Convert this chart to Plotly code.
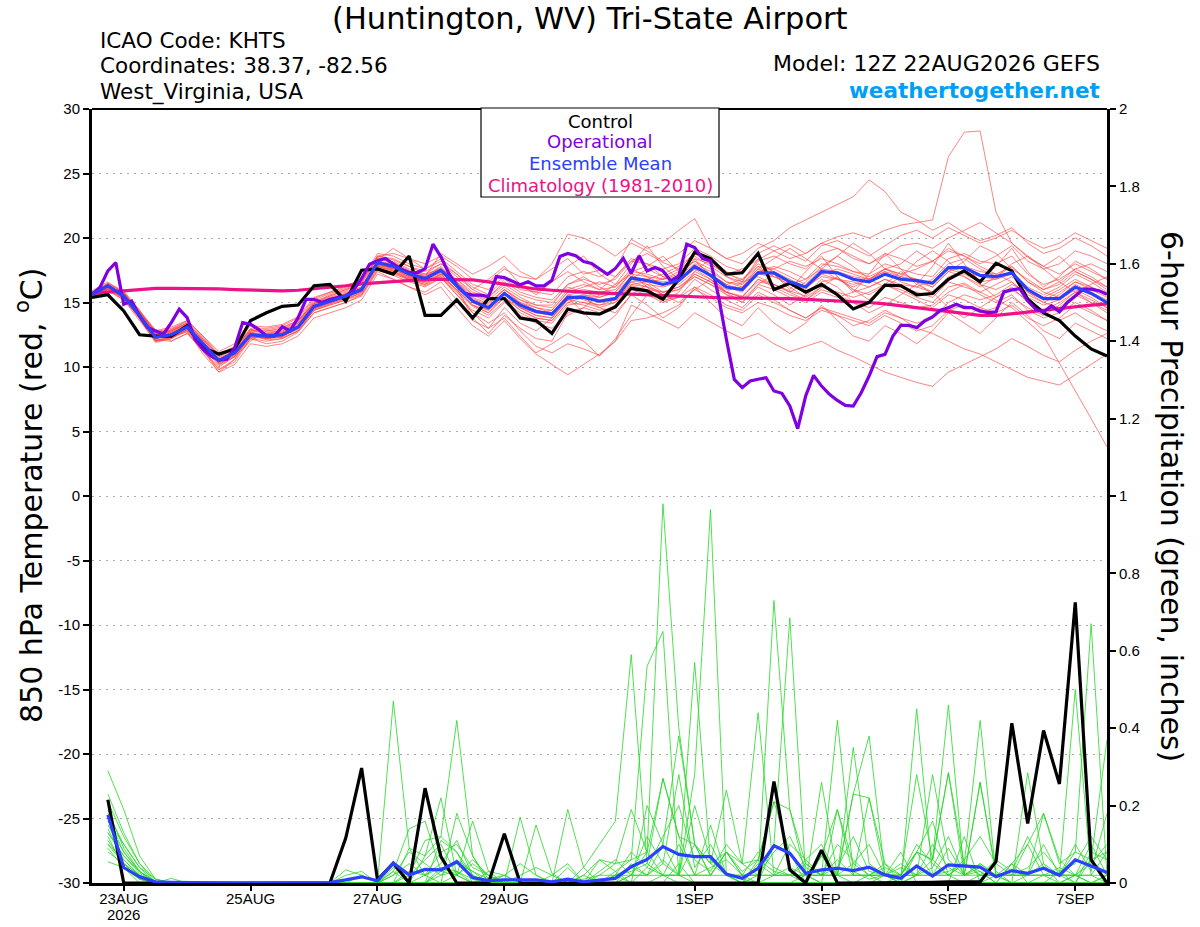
import pandas as pd
import plotly.graph_objects as go

# 6-hourly GEFS times (temperature) and 3-hourly operational times
times = pd.date_range("2026-08-22 12:00", periods=65, freq="6h")
op_times = pd.date_range("2026-08-22 12:00", periods=129, freq="3h")
precip_times = times[1:]

# 850 hPa temperature, deg C
control_t = [15.4, 15.6, 14.35, 12.5, 12.4, 12.4, 13.2, 11.5, 11.0, 11.4, 13.6, 14.2, 14.7, 14.8, 16.3, 16.4,
             15.1, 17.5, 17.6, 17.2, 18.6, 14.0, 14.0, 15.2, 13.8, 15.3, 15.3, 13.8, 13.6, 12.6, 14.5, 14.2,
             14.1, 14.65, 16.1, 15.9, 15.25, 16.8, 18.9, 18.4, 17.2, 17.3, 18.8, 16.0, 16.5, 15.8, 16.4, 15.6,
             14.5, 15.0, 16.35, 16.3, 15.6, 15.7, 16.8, 17.45, 16.6, 18.05, 17.45, 15.25, 14.2, 13.6, 12.4, 11.4,
             10.85]

mean_t = [15.6, 16.3, 15.5, 14.0, 12.3, 12.5, 13.1, 11.8, 10.5, 11.1, 12.5, 12.4, 12.5, 13.1, 14.7, 15.1,
          15.5, 16.0, 18.1, 17.8, 17.2, 16.85, 17.5, 16.3, 15.1, 14.6, 15.7, 14.8, 14.3, 14.1, 15.4, 15.4,
          15.1, 15.3, 16.9, 16.7, 16.4, 16.7, 17.8, 17.1, 16.2, 16.0, 17.3, 17.3, 16.6, 16.2, 17.4, 17.3,
          16.8, 16.6, 17.2, 16.8, 16.7, 16.5, 17.7, 17.7, 17.1, 17.0, 17.3, 16.0, 15.3, 15.3, 16.2, 15.7,
          15.0]

clim_t = [15.7, 15.8, 15.9, 16.0, 16.1, 16.1, 16.1, 16.05, 16.05, 16.0, 15.95, 15.9, 15.9, 15.95, 16.05, 16.15,
          16.3, 16.45, 16.55, 16.65, 16.75, 16.8, 16.8, 16.8, 16.75, 16.6, 16.4, 16.2, 16.05, 15.95, 15.85, 15.8,
          15.75, 15.7, 15.65, 15.55, 15.5, 15.45, 15.4, 15.4, 15.35, 15.35, 15.35, 15.3, 15.3, 15.25, 15.2, 15.15,
          15.1, 15.0, 14.9, 14.75, 14.6, 14.45, 14.3, 14.1, 14.0, 14.0, 14.1, 14.25, 14.4, 14.55, 14.7, 14.8,
          14.9]

oper_t = [15.64, 16.16, 17.45, 18.1, 14.87, 15.12, 13.96, 13.06, 12.8, 12.54, 13.44, 14.48, 13.83, 12.15, 11.37, 10.85,
          10.54, 10.6, 11.5, 13.44, 13.31, 12.92, 12.4, 12.4, 13.12, 12.8, 13.83, 15.25, 15.25, 15.0, 15.25, 15.38,
          15.51, 15.98, 16.86, 17.97, 18.23, 18.41, 17.97, 17.58, 17.32, 17.32, 17.6, 19.52, 18.54, 17.25, 16.34, 15.72,
          15.57, 15.57, 15.46, 17.01, 16.93, 16.62, 16.37, 16.6, 16.29, 16.29, 16.73, 18.57, 18.8, 18.62, 18.18, 18.03,
          17.58, 17.19, 17.64, 18.41, 17.27, 18.62, 17.45, 17.71, 17.45, 16.67, 17.06, 19.52, 19.26, 18.41, 18.23, 15.51,
          12.15, 9.04, 8.4, 8.91, 9.05, 9.17, 8.14, 7.96, 6.98, 5.22, 7.75, 9.35, 8.52, 7.88, 7.41, 7.02,
          6.97, 8.0, 9.3, 10.8, 10.98, 12.4, 13.23, 13.23, 13.05, 13.57, 13.88, 14.4, 14.6, 14.87, 14.6, 14.6,
          14.35, 14.22, 14.27, 15.82, 15.98, 16.08, 15.13, 14.48, 14.27, 14.74, 14.27, 15.0, 15.51, 16.03, 16.03, 15.9,
          15.64]

ens_t = [
    [15.5, 16.0, 15.8, 14.2, 12.8, 12.0, 12.6, 11.5, 10.2, 10.8, 12.0, 12.8, 13.0, 13.6, 14.9, 15.5, 16.0, 16.4, 17.8, 18.2, 17.6, 17.0, 18.8, 18.0, 17.2, 17.8, 18.6, 17.4, 16.8, 17.6, 18.4, 17.2, 17.5, 17.0, 18.2, 18.8, 18.1, 17.6, 18.4, 18.0, 17.2, 17.6, 18.3, 19.0, 19.5, 18.8, 19.6, 20.1, 20.4, 20.0, 20.6, 21.0, 21.2, 21.4, 26.3, 28.2, 28.3, 22.0, 19.6, 18.5, 17.8, 18.6, 17.4, 16.8, 16.2],
    [15.4, 15.9, 15.2, 13.6, 12.0, 12.3, 12.9, 11.2, 9.8, 10.4, 12.2, 11.8, 12.0, 12.7, 14.2, 14.6, 15.0, 15.6, 17.5, 17.1, 16.6, 16.2, 16.9, 15.8, 14.7, 14.0, 15.1, 14.2, 13.6, 13.4, 14.8, 15.0, 14.6, 15.0, 16.3, 16.0, 15.8, 16.2, 17.0, 16.4, 15.8, 15.5, 16.6, 16.4, 15.9, 15.5, 16.6, 16.9, 16.0, 15.6, 16.3, 16.0, 15.4, 15.0, 16.2, 16.5, 15.8, 15.2, 14.6, 13.5, 12.4, 10.3, 8.2, 6.0, 3.8],
    [15.8, 16.4, 15.6, 13.8, 11.9, 12.2, 12.8, 11.0, 9.6, 10.6, 12.6, 12.1, 12.2, 12.8, 14.4, 14.8, 15.2, 15.8, 18.4, 17.4, 16.8, 16.4, 17.0, 15.6, 14.2, 13.4, 14.2, 12.8, 11.6, 11.1, 11.8, 11.4, 10.9, 12.0, 14.8, 14.2, 13.6, 13.0, 14.2, 13.5, 12.8, 12.2, 12.6, 11.8, 11.2, 11.6, 12.0, 11.3, 10.8, 10.2, 9.6, 9.2, 8.8, 8.5, 9.6, 10.2, 10.8, 11.4, 12.2, 11.6, 10.9, 10.4, 11.3, 12.0, 12.6],
    [15.6, 16.2, 15.4, 14.0, 12.5, 12.8, 13.4, 12.2, 10.8, 11.4, 12.8, 12.6, 12.8, 13.4, 15.0, 15.4, 15.8, 16.2, 18.0, 17.6, 17.0, 16.6, 17.2, 16.0, 14.8, 14.2, 15.4, 14.4, 13.8, 13.6, 15.0, 14.8, 14.4, 14.6, 16.0, 15.6, 15.0, 15.4, 16.8, 16.0, 15.2, 14.6, 15.8, 15.2, 14.4, 13.8, 14.6, 14.0, 13.2, 13.6, 14.4, 13.8, 13.0, 12.6, 12.0, 11.4, 11.0, 10.4, 9.8, 9.2, 8.9, 8.6, 9.4, 10.2, 11.0],
    [15.7, 16.5, 15.9, 14.4, 12.6, 12.9, 13.6, 12.4, 11.0, 11.6, 13.0, 13.0, 13.2, 13.8, 15.3, 15.8, 16.3, 16.8, 18.8, 18.6, 18.0, 17.6, 18.4, 17.4, 16.4, 16.0, 17.0, 16.2, 15.8, 15.6, 17.0, 17.4, 17.0, 17.6, 19.9, 19.2, 19.6, 20.6, 21.5, 19.2, 18.4, 18.0, 19.2, 19.8, 20.8, 21.4, 22.0, 22.6, 23.2, 24.5, 23.6, 22.0, 21.4, 20.6, 21.2, 20.4, 19.8, 20.2, 20.8, 19.6, 18.8, 19.2, 20.0, 19.4, 18.6],
    [15.3, 16.1, 15.3, 13.9, 12.2, 12.4, 12.8, 11.6, 10.4, 11.0, 12.4, 12.2, 12.4, 13.0, 14.6, 15.0, 15.4, 15.9, 17.9, 17.6, 17.0, 16.8, 17.4, 16.6, 15.6, 15.0, 16.0, 15.2, 14.8, 14.6, 16.0, 16.4, 16.0, 16.2, 17.4, 17.8, 18.6, 17.4, 18.2, 17.2, 16.4, 16.8, 17.8, 17.0, 16.4, 16.8, 17.6, 16.8, 16.2, 16.8, 17.4, 16.6, 16.2, 16.8, 18.0, 18.4, 17.6, 17.0, 17.8, 16.6, 15.8, 15.4, 16.4, 15.8, 15.2],
    [15.9, 16.6, 15.7, 14.3, 12.9, 12.6, 13.2, 12.0, 10.2, 10.9, 12.3, 12.2, 12.3, 13.2, 14.8, 15.2, 15.6, 16.1, 18.6, 18.4, 17.8, 17.2, 17.6, 16.2, 13.8, 12.6, 14.0, 13.0, 12.2, 12.0, 14.2, 14.6, 14.2, 14.8, 16.4, 16.6, 16.8, 17.4, 18.6, 17.8, 17.0, 16.6, 18.2, 18.6, 18.0, 17.6, 18.8, 19.2, 18.6, 18.0, 18.6, 19.4, 19.6, 19.2, 20.0, 20.6, 21.2, 20.4, 19.6, 18.6, 17.8, 17.2, 18.0, 17.4, 16.8],
    [15.5, 16.2, 15.5, 14.1, 12.4, 12.6, 13.0, 11.4, 9.8, 10.6, 12.2, 12.4, 12.6, 13.0, 14.4, 14.8, 15.2, 15.6, 17.6, 17.2, 16.8, 16.4, 17.2, 16.8, 15.8, 15.4, 16.4, 15.6, 15.2, 15.0, 16.2, 15.8, 15.4, 15.8, 17.0, 16.6, 15.8, 16.2, 17.2, 16.6, 15.8, 15.4, 16.8, 16.2, 15.6, 15.2, 16.0, 15.6, 15.0, 14.6, 15.4, 15.0, 14.6, 14.8, 15.8, 16.4, 15.6, 15.0, 15.6, 14.4, 13.8, 14.2, 15.0, 14.4, 13.6],
    [15.6, 16.3, 15.6, 14.0, 12.0, 12.2, 13.0, 11.9, 10.6, 11.3, 12.7, 12.5, 12.6, 13.3, 14.9, 15.3, 15.7, 16.2, 18.2, 18.0, 17.4, 17.0, 17.8, 16.4, 15.0, 14.4, 15.8, 14.6, 14.0, 13.8, 15.2, 15.6, 15.4, 15.8, 17.4, 17.2, 16.8, 17.2, 18.2, 17.6, 16.6, 16.4, 17.8, 17.6, 17.0, 16.4, 17.6, 17.4, 17.0, 16.8, 17.4, 17.0, 16.8, 16.4, 17.6, 17.2, 16.6, 16.8, 17.4, 16.2, 15.6, 16.2, 17.2, 16.6, 15.8],
    [15.4, 16.0, 15.4, 14.2, 12.6, 12.8, 13.4, 12.1, 10.6, 11.2, 12.8, 12.9, 13.1, 13.6, 15.0, 15.6, 16.0, 16.6, 18.6, 18.8, 18.4, 18.0, 18.6, 17.8, 16.8, 16.6, 17.6, 17.0, 16.8, 18.0, 20.3, 20.0, 19.4, 18.6, 19.6, 19.0, 18.2, 18.8, 19.8, 19.2, 18.4, 18.8, 19.6, 19.0, 18.4, 18.8, 19.6, 19.2, 18.4, 18.0, 18.8, 18.4, 17.8, 18.2, 19.2, 18.6, 18.0, 18.6, 19.4, 18.2, 17.6, 18.0, 19.0, 18.6, 18.0],
    [15.7, 16.4, 15.5, 13.8, 12.1, 12.0, 12.6, 11.3, 9.6, 10.2, 11.8, 11.6, 11.8, 12.4, 13.8, 14.2, 14.6, 15.2, 17.2, 16.8, 16.2, 15.6, 16.2, 14.6, 13.2, 12.4, 13.6, 12.2, 11.0, 10.2, 9.4, 10.2, 11.0, 12.0, 13.6, 13.8, 14.2, 14.8, 16.0, 15.4, 14.6, 14.2, 15.0, 14.6, 14.0, 13.6, 14.4, 14.0, 13.6, 13.2, 14.0, 13.4, 12.8, 13.2, 14.4, 14.8, 14.2, 14.6, 15.4, 14.6, 14.0, 14.8, 15.8, 15.2, 14.6],
    [15.5, 16.1, 15.6, 14.3, 12.7, 13.0, 13.5, 12.3, 10.9, 11.5, 12.9, 12.7, 12.8, 13.5, 15.1, 15.5, 15.9, 16.4, 18.4, 18.1, 17.5, 17.1, 17.7, 16.5, 15.3, 14.8, 16.0, 15.0, 14.4, 14.2, 15.6, 15.8, 15.6, 15.6, 17.0, 16.8, 16.6, 16.8, 17.8, 17.0, 16.2, 15.8, 17.2, 17.0, 16.6, 16.2, 17.0, 16.8, 16.6, 16.2, 16.8, 16.4, 16.2, 15.8, 17.0, 17.4, 17.0, 16.8, 17.2, 15.8, 15.0, 14.6, 15.6, 15.0, 14.4],
    [15.6, 16.2, 15.3, 13.7, 12.0, 12.4, 12.7, 11.2, 10.0, 10.8, 12.4, 12.3, 12.5, 13.1, 14.5, 14.9, 15.3, 15.8, 17.8, 17.4, 16.8, 16.6, 17.2, 16.0, 14.8, 14.2, 15.4, 14.6, 14.2, 14.4, 15.8, 16.2, 16.6, 16.2, 17.6, 17.0, 16.4, 16.6, 17.6, 16.8, 16.0, 16.2, 17.4, 17.6, 18.2, 17.8, 18.4, 18.0, 17.4, 17.0, 17.6, 17.2, 17.6, 18.2, 19.0, 18.6, 17.8, 17.2, 16.6, 15.6, 15.0, 15.6, 16.6, 16.2, 15.6],
    [15.8, 16.5, 15.8, 14.2, 12.4, 12.8, 13.3, 12.0, 10.4, 11.0, 12.6, 12.4, 12.4, 13.0, 14.6, 15.0, 15.4, 15.9, 18.0, 17.8, 17.2, 16.8, 17.4, 16.2, 15.0, 14.6, 15.8, 14.8, 14.4, 14.0, 15.4, 15.6, 15.2, 15.4, 16.8, 16.4, 16.2, 16.6, 17.6, 17.2, 16.4, 16.0, 17.4, 17.8, 17.4, 16.8, 18.0, 17.8, 17.4, 17.2, 18.0, 17.6, 17.2, 17.0, 18.4, 18.8, 18.2, 18.0, 18.6, 17.2, 16.4, 16.8, 17.6, 17.0, 16.2],
    [15.4, 16.0, 15.2, 13.9, 12.3, 12.5, 13.1, 11.7, 10.3, 11.0, 12.4, 12.2, 12.4, 12.9, 14.5, 15.0, 15.5, 16.0, 17.9, 17.7, 17.1, 16.7, 17.3, 16.3, 15.2, 14.7, 15.8, 15.0, 14.6, 14.2, 15.2, 15.0, 14.8, 15.2, 16.6, 16.2, 15.6, 16.0, 17.0, 16.4, 15.6, 15.2, 16.4, 16.0, 15.4, 15.0, 15.8, 15.4, 15.8, 16.2, 16.8, 16.2, 15.8, 15.4, 16.6, 16.2, 15.8, 16.4, 17.0, 16.0, 15.4, 16.0, 16.8, 16.2, 15.6],
    [15.6, 16.3, 15.7, 14.4, 12.8, 13.1, 13.6, 12.4, 11.2, 11.8, 13.2, 13.1, 13.3, 13.9, 15.4, 15.8, 16.2, 16.6, 18.6, 18.3, 17.8, 17.4, 18.0, 17.0, 16.0, 15.4, 16.6, 15.8, 15.4, 15.2, 16.4, 16.8, 16.4, 16.8, 18.2, 18.0, 17.6, 18.0, 19.2, 18.6, 17.8, 17.4, 18.8, 19.4, 18.8, 18.2, 19.4, 19.8, 19.2, 18.6, 19.4, 20.2, 20.6, 20.0, 20.8, 20.2, 19.6, 20.0, 20.6, 19.8, 19.2, 19.6, 20.4, 19.8, 19.2],
    [15.5, 16.2, 15.4, 13.8, 12.1, 12.3, 12.9, 11.6, 10.4, 11.2, 12.6, 12.4, 12.5, 13.1, 14.6, 15.0, 15.4, 15.9, 17.8, 17.5, 16.9, 16.5, 17.1, 15.9, 14.2, 13.0, 13.8, 12.4, 11.1, 11.8, 12.6, 12.0, 10.85, 12.2, 14.0, 15.6, 15.2, 15.4, 16.2, 15.6, 14.8, 14.4, 15.6, 15.0, 14.4, 13.8, 14.6, 14.2, 13.8, 13.4, 14.2, 13.8, 13.4, 13.8, 15.0, 15.6, 15.2, 15.6, 16.4, 15.8, 15.2, 15.8, 16.6, 16.0, 15.4],
    [15.7, 16.4, 15.6, 14.1, 12.4, 12.7, 13.2, 11.9, 10.6, 11.2, 12.6, 12.5, 12.7, 13.4, 14.9, 15.3, 15.7, 16.1, 18.2, 17.9, 17.3, 17.0, 17.6, 16.4, 15.2, 14.6, 15.8, 14.8, 14.2, 14.0, 15.6, 15.2, 14.8, 15.0, 16.6, 16.8, 17.2, 17.8, 18.8, 18.0, 17.2, 16.8, 18.0, 17.4, 16.8, 16.2, 17.2, 16.8, 16.4, 16.8, 17.6, 17.0, 16.6, 16.2, 17.4, 17.0, 16.4, 16.0, 16.6, 15.4, 14.8, 15.2, 16.0, 15.4, 14.6],
    [15.6, 16.1, 15.5, 14.0, 12.2, 12.6, 13.0, 11.8, 10.5, 11.0, 12.4, 12.6, 12.7, 13.2, 14.7, 15.1, 15.6, 16.1, 18.1, 17.6, 17.0, 16.8, 17.5, 16.6, 15.4, 14.9, 16.0, 15.2, 14.6, 14.4, 15.8, 16.0, 15.8, 16.0, 17.2, 17.0, 16.8, 17.0, 18.0, 17.4, 16.6, 16.2, 17.6, 17.2, 16.6, 16.0, 17.2, 17.6, 17.2, 16.8, 17.6, 17.2, 16.8, 16.2, 17.4, 17.8, 17.4, 17.2, 17.8, 16.6, 16.0, 16.4, 17.4, 16.8, 16.0],
    [15.5, 16.3, 15.6, 14.0, 12.3, 12.5, 13.1, 11.8, 10.5, 11.1, 12.5, 12.4, 12.5, 13.1, 14.7, 15.1, 15.5, 16.0, 18.0, 17.7, 17.1, 16.8, 17.4, 16.2, 15.0, 14.5, 15.6, 14.6, 14.0, 13.8, 15.2, 15.4, 15.0, 15.2, 16.4, 16.2, 15.8, 16.0, 17.2, 16.6, 15.8, 15.4, 16.8, 16.4, 15.8, 15.2, 16.2, 15.8, 15.4, 15.8, 16.4, 15.8, 15.2, 14.6, 15.6, 15.2, 14.6, 14.2, 14.8, 13.8, 13.2, 13.8, 14.8, 14.2, 13.6],
    [15.6, 16.2, 15.7, 14.2, 12.5, 12.4, 13.0, 11.7, 10.3, 10.9, 12.3, 12.3, 12.4, 13.0, 14.6, 15.0, 15.4, 15.9, 18.3, 19.2, 18.4, 17.6, 18.2, 17.2, 16.0, 16.8, 17.8, 16.4, 15.6, 16.6, 17.8, 18.6, 17.2, 16.4, 18.0, 19.4, 17.8, 16.8, 18.4, 17.0, 15.8, 16.6, 18.4, 17.2, 16.0, 17.4, 18.6, 17.0, 15.8, 17.2, 18.8, 17.6, 16.4, 17.8, 19.6, 18.0, 16.6, 17.8, 19.2, 17.4, 16.2, 17.0, 18.2, 17.6, 16.8],
    [15.5, 16.1, 15.4, 13.9, 12.2, 12.6, 13.2, 11.9, 10.7, 11.3, 12.7, 12.3, 12.3, 12.8, 14.2, 14.6, 15.0, 15.5, 17.4, 16.8, 16.2, 15.8, 16.6, 15.2, 13.6, 13.0, 14.6, 13.4, 12.8, 13.8, 15.4, 14.2, 13.0, 14.0, 15.6, 14.8, 13.8, 14.6, 16.2, 15.0, 13.8, 13.2, 14.6, 13.4, 12.6, 13.4, 14.8, 13.6, 12.4, 12.0, 13.2, 12.6, 11.8, 12.8, 14.2, 13.4, 12.6, 13.8, 15.0, 14.0, 12.8, 12.2, 13.4, 12.8, 12.2],
    [15.7, 16.3, 15.6, 14.2, 12.6, 12.9, 13.4, 12.2, 10.9, 11.5, 12.9, 12.8, 12.9, 13.6, 15.2, 15.7, 16.1, 16.5, 18.5, 18.0, 17.4, 17.2, 18.0, 17.2, 16.2, 15.6, 16.8, 16.0, 15.8, 16.6, 17.4, 16.6, 16.0, 17.0, 18.4, 18.0, 17.0, 17.6, 18.8, 18.2, 17.0, 16.4, 17.6, 18.4, 19.2, 18.4, 17.6, 18.6, 19.6, 18.8, 17.6, 18.0, 19.0, 18.2, 17.4, 18.2, 19.4, 18.8, 17.6, 16.8, 16.0, 16.6, 17.6, 18.0, 17.4],
    [15.4, 16.0, 15.3, 13.8, 12.1, 12.2, 12.9, 11.5, 10.1, 10.8, 12.2, 12.0, 12.2, 12.8, 14.4, 14.9, 15.3, 15.7, 17.7, 17.3, 16.7, 16.3, 16.9, 15.6, 14.4, 13.8, 15.0, 14.0, 13.4, 13.0, 14.0, 14.6, 15.6, 16.4, 17.2, 16.2, 15.0, 15.8, 17.4, 16.8, 15.6, 15.0, 16.2, 15.6, 14.8, 15.6, 16.8, 16.2, 15.0, 14.2, 14.8, 15.6, 16.4, 15.8, 14.6, 13.8, 14.6, 15.4, 16.2, 15.0, 14.2, 13.6, 14.2, 13.4, 12.8],
    [15.6, 16.4, 15.8, 14.3, 12.7, 12.8, 13.3, 12.1, 10.8, 11.4, 12.9, 12.6, 12.6, 13.2, 14.8, 15.2, 15.6, 16.0, 17.8, 17.4, 16.9, 16.9, 17.6, 16.8, 15.6, 15.2, 16.2, 15.4, 14.8, 14.8, 16.4, 17.0, 16.2, 15.6, 16.8, 17.6, 17.0, 16.4, 17.4, 18.4, 17.4, 16.6, 17.0, 16.4, 15.8, 16.6, 17.8, 18.6, 17.8, 16.8, 16.2, 17.0, 18.2, 19.0, 18.2, 17.0, 16.2, 17.0, 18.0, 18.6, 17.6, 16.6, 15.8, 16.4, 17.0],
    [15.5, 16.2, 15.5, 14.0, 12.3, 12.7, 13.2, 11.8, 10.4, 11.1, 12.5, 12.4, 12.6, 13.2, 14.7, 15.1, 15.5, 16.0, 17.9, 17.5, 17.2, 16.6, 17.0, 16.0, 14.8, 14.4, 15.4, 14.4, 13.8, 13.6, 15.0, 15.4, 14.6, 14.2, 15.6, 16.4, 15.6, 15.0, 16.0, 16.8, 15.8, 15.0, 16.4, 17.2, 16.2, 15.4, 16.2, 17.0, 16.0, 15.2, 16.4, 17.4, 16.6, 15.6, 16.8, 17.6, 16.4, 15.4, 16.0, 15.2, 14.4, 15.0, 15.8, 15.0, 14.2],
]

# 6-hour precipitation, inches (first value is the 18Z 22AUG accumulation)
control_p = [0.215, 0.0, 0, 0, 0, 0, 0, 0, 0, 0, 0, 0, 0, 0, 0, 0.116,
             0.297, 0.008, 0.051, 0, 0.245, 0.068, 0, 0, 0, 0.127, 0, 0, 0, 0, 0, 0,
             0, 0, 0, 0, 0, 0, 0, 0, 0, 0, 0.262, 0.034, 0, 0.085, 0, 0,
             0, 0, 0, 0, 0.002, 0.003, 0.003, 0.003, 0.055, 0.413, 0.154, 0.394, 0.256, 0.725, 0.06, 0]

mean_p = [0.176, 0.04, 0.016, 0.003, 0.002, 0.001, 0.001, 0, 0, 0, 0, 0, 0, 0, 0.001, 0.008,
          0.016, 0.006, 0.051, 0.021, 0.035, 0.034, 0.055, 0.014, 0.006, 0.008, 0.009, 0.008, 0.003, 0.01, 0.003, 0.008,
          0.012, 0.042, 0.061, 0.094, 0.074, 0.068, 0.068, 0.023, 0.012, 0.038, 0.096, 0.077, 0.025, 0.034, 0.038, 0.032,
          0.041, 0.021, 0.012, 0.044, 0.018, 0.047, 0.044, 0.041, 0.016, 0.032, 0.025, 0.038, 0.02, 0.06, 0.044, 0.027]

ens_p = [
    [0.29, 0.19, 0.07, 0.01, 0, 0, 0, 0, 0, 0, 0, 0, 0, 0, 0, 0, 0, 0, 0.47, 0.09, 0.02, 0.05, 0.11, 0.02, 0, 0, 0, 0, 0, 0, 0.01, 0.02, 0.05, 0.19, 0.08, 0.98, 0.40, 0.10, 0.02, 0.08, 0.03, 0.06, 0.21, 0.08, 0, 0.07, 0.02, 0, 0.02, 0, 0.02, 0.08, 0.02, 0.09, 0.02, 0.26, 0.03, 0, 0.02, 0.1, 0.02, 0, 0.08, 0.06],
    [0.23, 0.13, 0.05, 0, 0, 0, 0, 0, 0, 0, 0, 0, 0, 0, 0, 0, 0, 0, 0.03, 0.14, 0.16, 0.03, 0.02, 0, 0.01, 0, 0, 0, 0, 0.19, 0.04, 0.1, 0.16, 0.59, 0.05, 0.27, 0.12, 0.02, 0.15, 0.02, 0.01, 0, 0.1, 0.685, 0.02, 0, 0.19, 0.05, 0.02, 0.05, 0, 0.08, 0.06, 0.02, 0.05, 0.03, 0, 0.05, 0, 0.02, 0, 0, 0.06, 0.37],
    [0.19, 0.09, 0.03, 0, 0, 0, 0, 0, 0, 0, 0, 0, 0, 0, 0, 0, 0.02, 0, 0, 0, 0.07, 0.22, 0.02, 0.16, 0.03, 0.02, 0, 0, 0, 0, 0, 0.06, 0.03, 0.06, 0.56, 0.65, 0.02, 0.57, 0.05, 0.24, 0.05, 0.44, 0.02, 0.02, 0.05, 0.02, 0.42, 0.03, 0.01, 0.02, 0, 0.45, 0.02, 0.03, 0.05, 0.02, 0.02, 0, 0.285, 0.05, 0, 0.02, 0.02, 0],
    [0.13, 0.07, 0.025, 0, 0.012, 0, 0, 0, 0, 0, 0, 0, 0, 0, 0, 0, 0, 0, 0, 0.02, 0.11, 0.12, 0.42, 0.07, 0.01, 0, 0.17, 0.02, 0, 0, 0.04, 0, 0, 0, 0.2, 0.1, 0.02, 0.28, 0.965, 0.02, 0, 0.06, 0.03, 0.02, 0, 0.26, 0.02, 0.35, 0.05, 0.02, 0.02, 0.08, 0.16, 0.02, 0, 0.02, 0.06, 0.03, 0.02, 0.18, 0.06, 0.02, 0, 0.02],
    [0.12, 0.04, 0.01, 0, 0, 0, 0, 0, 0, 0, 0, 0, 0, 0, 0, 0.034, 0.02, 0, 0.03, 0, 0, 0, 0.18, 0.07, 0, 0.02, 0, 0.15, 0.025, 0, 0, 0, 0, 0.02, 0.02, 0.1, 0.38, 0.1, 0.05, 0.08, 0.02, 0.02, 0.73, 0.19, 0.05, 0.02, 0.02, 0.23, 0.38, 0.02, 0, 0.02, 0.28, 0.06, 0.02, 0.03, 0, 0.05, 0.02, 0.05, 0.02, 0.5, 0.02, 0.08],
    [0.055, 0.04, 0, 0, 0, 0, 0, 0, 0, 0, 0, 0, 0, 0, 0, 0, 0, 0, 0, 0, 0, 0.11, 0.08, 0, 0.03, 0, 0, 0, 0, 0, 0, 0.02, 0.02, 0.03, 0.05, 0.02, 0.02, 0.1, 0.05, 0.02, 0, 0.02, 0.1, 0.08, 0.02, 0.07, 0.19, 0.02, 0.22, 0.05, 0.02, 0.02, 0.06, 0.46, 0.02, 0.02, 0.02, 0.02, 0.1, 0.02, 0.02, 0.08, 0.67, 0.02],
    [0.16, 0.1, 0.04, 0, 0, 0, 0, 0, 0, 0, 0, 0, 0, 0, 0, 0, 0, 0, 0, 0, 0, 0, 0.02, 0, 0, 0, 0, 0, 0, 0, 0, 0, 0, 0.02, 0.08, 0.02, 0.02, 0.02, 0.02, 0.08, 0.02, 0.02, 0.02, 0.02, 0.02, 0.02, 0.02, 0.02, 0.02, 0.02, 0.02, 0.08, 0.06, 0.285, 0.05, 0.42, 0.02, 0.03, 0.02, 0.02, 0.02, 0.02, 0.06, 0.02],
    [0.14, 0.06, 0.02, 0, 0, 0, 0, 0, 0, 0, 0, 0, 0, 0, 0, 0, 0, 0, 0, 0, 0, 0, 0, 0, 0, 0, 0, 0, 0, 0, 0, 0, 0.02, 0.02, 0.02, 0.02, 0.02, 0.02, 0.02, 0.02, 0.02, 0.02, 0.02, 0.02, 0.02, 0.02, 0.02, 0.02, 0.02, 0.02, 0.02, 0.02, 0.02, 0.02, 0.05, 0.02, 0.02, 0.02, 0.02, 0.02, 0.02, 0.02, 0.02, 0.02],
    [0.1, 0.05, 0.01, 0, 0, 0, 0, 0, 0, 0, 0, 0, 0, 0, 0, 0, 0, 0, 0, 0.09, 0.07, 0.12, 0.08, 0.02, 0, 0, 0, 0, 0, 0, 0.02, 0.06, 0.05, 0.06, 0.08, 0.27, 0.12, 0.1, 0.02, 0.08, 0.05, 0.06, 0.21, 0.19, 0.02, 0.07, 0.02, 0.23, 0.22, 0.02, 0.02, 0.28, 0.06, 0.285, 0.02, 0.26, 0.02, 0.05, 0.1, 0.18, 0.05, 0.08, 0.06, 0.08],
    [0.15, 0.08, 0.03, 0.005, 0, 0, 0, 0, 0, 0, 0, 0, 0, 0, 0, 0, 0, 0, 0, 0.03, 0.02, 0, 0, 0, 0, 0, 0, 0, 0, 0.04, 0, 0, 0.03, 0, 0, 0.02, 0, 0, 0, 0, 0, 0, 0, 0, 0, 0, 0, 0, 0, 0, 0, 0, 0, 0, 0, 0, 0, 0, 0, 0, 0, 0, 0, 0],
    [0.11, 0.05, 0.02, 0, 0, 0, 0, 0, 0, 0, 0, 0, 0, 0, 0, 0, 0, 0, 0, 0, 0, 0.04, 0.03, 0, 0, 0, 0, 0, 0, 0, 0, 0, 0.02, 0.04, 0.02, 0.05, 0.02, 0, 0, 0, 0, 0, 0, 0, 0, 0, 0, 0, 0, 0, 0, 0, 0, 0, 0, 0, 0.02, 0, 0, 0, 0.03, 0, 0, 0, 0],
    [0.13, 0.07, 0.03, 0, 0, 0, 0, 0, 0, 0, 0, 0, 0, 0, 0, 0, 0, 0, 0, 0, 0, 0, 0, 0, 0, 0, 0, 0, 0, 0, 0, 0, 0, 0, 0, 0, 0.05, 0, 0, 0, 0, 0, 0, 0, 0.02, 0, 0, 0, 0, 0.02, 0.08, 0, 0, 0, 0, 0, 0, 0, 0, 0, 0, 0.02, 0, 0],
    [0.18, 0.1, 0.04, 0.01, 0, 0, 0, 0, 0, 0, 0, 0, 0, 0, 0, 0, 0, 0, 0, 0, 0, 0.03, 0.05, 0.03, 0, 0, 0, 0, 0, 0, 0, 0, 0, 0, 0, 0, 0, 0, 0, 0, 0, 0, 0, 0, 0, 0, 0, 0, 0, 0, 0, 0, 0, 0, 0.12, 0, 0, 0, 0, 0, 0, 0, 0, 0],
    [0.09, 0.04, 0.01, 0, 0, 0, 0, 0, 0, 0, 0, 0, 0, 0, 0, 0, 0, 0, 0, 0, 0, 0.02, 0.03, 0.01, 0, 0, 0, 0, 0, 0, 0, 0, 0, 0, 0, 0, 0, 0, 0, 0, 0, 0, 0, 0, 0, 0, 0, 0, 0, 0, 0, 0, 0, 0, 0, 0, 0, 0, 0, 0, 0, 0, 0, 0.02, 0],
    [0.08, 0.05, 0.02, 0, 0, 0, 0, 0, 0, 0, 0, 0, 0, 0, 0, 0.02, 0.03, 0, 0.02, 0.08, 0.05, 0.02, 0.06, 0.03, 0.01, 0.02, 0.05, 0.02, 0, 0, 0.02, 0, 0.02, 0.08, 0.04, 0.12, 0.2, 0.06, 0.03, 0.1, 0.05, 0.02, 0.08, 0.12, 0.04, 0.02, 0.1, 0.06, 0.02, 0.04, 0.02, 0.1, 0.05, 0.02, 0.06, 0.12, 0.05, 0.02, 0.04, 0.08, 0.03, 0.05, 0.12, 0.06],
    [0.17, 0.08, 0.03, 0, 0, 0, 0, 0, 0, 0, 0, 0, 0, 0, 0, 0, 0, 0, 0.04, 0.02, 0.06, 0.1, 0.02, 0.05, 0.02, 0, 0.02, 0.04, 0.02, 0, 0, 0.03, 0.06, 0.02, 0.12, 0.05, 0.28, 0.04, 0.1, 0.02, 0, 0.05, 0.02, 0.1, 0.06, 0.02, 0.04, 0.12, 0.03, 0.02, 0.05, 0.02, 0.1, 0.04, 0.02, 0.05, 0.02, 0.03, 0.12, 0.04, 0.02, 0.1, 0.03, 0.18],
    [0.21, 0.12, 0.05, 0.01, 0, 0, 0, 0, 0, 0, 0, 0, 0, 0, 0, 0, 0, 0, 0.02, 0.05, 0.02, 0.08, 0.1, 0.04, 0.02, 0, 0, 0, 0.02, 0.05, 0, 0, 0, 0.05, 0.02, 0.06, 0.02, 0.2, 0.06, 0.02, 0.02, 0.08, 0.04, 0.02, 0.06, 0.1, 0.02, 0.05, 0.1, 0.02, 0, 0.02, 0.04, 0.12, 0.02, 0.05, 0.02, 0.02, 0.02, 0.04, 0.02, 0.02, 0.05, 0.1],
    [0.1, 0.06, 0.02, 0, 0, 0, 0, 0, 0, 0, 0, 0, 0, 0, 0, 0, 0, 0, 0, 0, 0.02, 0.04, 0.02, 0.06, 0.02, 0, 0, 0, 0, 0, 0, 0, 0.02, 0, 0.04, 0.02, 0.1, 0.02, 0.04, 0.06, 0.02, 0, 0.02, 0.04, 0.02, 0.02, 0.06, 0.02, 0.02, 0.02, 0.04, 0.02, 0.02, 0.02, 0.02, 0.04, 0.02, 0.02, 0.02, 0.02, 0.04, 0.02, 0.1, 0.02],
]

t_ticks = [-30, -25, -20, -15, -10, -5, 0, 5, 10, 15, 20, 25, 30]
t_labels = ["-30", "-25", "-20", "-15", "-10", "-5", "0", "5", "10", "15", "20", "25", "30"]
p_ticks = [0, 0.2, 0.4, 0.6, 0.8, 1, 1.2, 1.4, 1.6, 1.8, 2]
p_labels = ["0", "0.2", "0.4", "0.6", "0.8", "1", "1.2", "1.4", "1.6", "1.8", "2"]
date_ticks = ["2026-08-23", "2026-08-25", "2026-08-27", "2026-08-29",
              "2026-09-01", "2026-09-03", "2026-09-05", "2026-09-07"]
date_labels = ["23AUG", "25AUG", "27AUG", "29AUG", "1SEP", "3SEP", "5SEP", "7SEP"]
year_label = "2026"

FONT = "Liberation Sans, Arial, sans-serif"
WIDE = "DejaVu Sans, Verdana, sans-serif"
RED = "rgba(255,70,70,0.75)"
GREEN = "rgba(40,215,40,0.9)"
PURPLE = "#7f00e0"
BLUE = "#2a40ff"
PINK = "#ee1188"

# plot area in pixels (for placing the text around it)
L, R, T, B = 92, 1107, 109, 883


def px(x):
    return (x - L) / (R - L)


def py(y):
    return (B - y) / (B - T)


fig = go.Figure()

for m in ens_t:
    fig.add_trace(go.Scatter(x=times, y=m, mode="lines", line=dict(color=RED, width=0.9)))
for m in ens_p:
    fig.add_trace(go.Scatter(x=precip_times, y=m, mode="lines", yaxis="y2",
                             line=dict(color=GREEN, width=0.9)))

fig.add_trace(go.Scatter(x=times, y=clim_t, mode="lines", line=dict(color=PINK, width=3.2)))
fig.add_trace(go.Scatter(x=times, y=control_t, mode="lines", line=dict(color="black", width=3.2)))
fig.add_trace(go.Scatter(x=precip_times, y=control_p, mode="lines", yaxis="y2",
                         line=dict(color="black", width=3.2)))
fig.add_trace(go.Scatter(x=op_times, y=oper_t, mode="lines", line=dict(color=PURPLE, width=3.2)))
fig.add_trace(go.Scatter(x=times, y=mean_t, mode="lines", line=dict(color=BLUE, width=3.2)))
fig.add_trace(go.Scatter(x=precip_times, y=mean_p, mode="lines", yaxis="y2",
                         line=dict(color=BLUE, width=3.2)))

fig.update_layout(
    width=1200, height=927,
    margin=dict(l=L, r=1200 - R, t=T, b=927 - B),
    paper_bgcolor="white", plot_bgcolor="white",
    showlegend=False,
    font=dict(family=FONT, color="black"),
    xaxis=dict(type="date", range=[times[0], times[-1]], automargin=False,
               tickvals=date_ticks, ticktext=date_labels,
               ticks="outside", ticklen=5, tickwidth=1.5, tickcolor="black",
               ticklabelstandoff=-5,
               tickfont=dict(size=15), showgrid=False, zeroline=False,
               showline=True, linewidth=3, linecolor="black"),
    yaxis=dict(range=[-30, 30], tickvals=t_ticks, ticktext=t_labels, automargin=False,
               ticks="outside", ticklen=6, tickwidth=1.5, tickcolor="black",
               tickfont=dict(size=15), showgrid=True, gridcolor="#aaaaaa",
               gridwidth=1, griddash="2px,5px", zeroline=False,
               showline=True, linewidth=3, linecolor="black"),
    yaxis2=dict(range=[0, 2], overlaying="y", side="right", automargin=False,
                tickvals=p_ticks, ticktext=p_labels,
                ticks="outside", ticklen=6, tickwidth=1.5, tickcolor="black",
                tickfont=dict(size=15), showgrid=False, zeroline=False,
                showline=True, linewidth=3, linecolor="black"),
)

shapes = [
    # top border of the plot
    dict(type="line", xref="paper", yref="paper", x0=0, x1=1, y0=1, y1=1,
         line=dict(color="black", width=2)),
    # legend box
    dict(type="rect", xref="paper", yref="paper", x0=px(481), x1=px(719), y0=py(197), y1=py(108),
         fillcolor="white", line=dict(color="black", width=1.2), layer="above"),
]
fig.update_layout(shapes=shapes)

notes = [
    ("(Huntington, WV) Tri-State Airport", 590, 18, "center", 30.5, "black"),
    ("ICAO Code: KHTS", 98, 40, "left", 21.5, "black"),
    ("Coordinates: 38.37, -82.56", 98, 66, "left", 21.5, "black"),
    ("West_Virginia, USA", 98, 92, "left", 21.5, "black"),
    ("Model: 12Z 22AUG2026 GEFS", 1102, 64, "right", 22, "black"),
    ("<b>weathertogether.net</b>", 1102, 90, "right", 21.5, "#00a0f8"),
    ("Control", 600, 121, "center", 18, "black"),
    ("Operational", 600, 142, "center", 18, PURPLE),
    ("Ensemble Mean", 600, 163, "center", 18, BLUE),
    ("Climatology (1981-2010)", 600, 185, "center", 18, PINK),
]
for text, x, y, anchor, size, color in notes:
    fig.add_annotation(text=text, x=px(x), y=py(y), xref="paper", yref="paper",
                       xanchor=anchor, yanchor="middle", showarrow=False,
                       font=dict(size=size, color=color, family=WIDE))

# year under the first date tick
fig.add_annotation(text=year_label, x=date_ticks[0], y=py(914), xref="x", yref="paper",
                   xanchor="center", yanchor="middle", showarrow=False,
                   font=dict(size=15, family=FONT))

fig.add_annotation(text="850 hPa Temperature (red, <sup>o</sup>C)", x=px(30), y=py(495),
                   xref="paper", yref="paper", textangle=-90, showarrow=False,
                   xanchor="center", yanchor="middle", font=dict(size=30, family=WIDE))
fig.add_annotation(text="6-hour Precipitation (green, inches)", x=px(1172), y=py(496),
                   xref="paper", yref="paper", textangle=90, showarrow=False,
                   xanchor="center", yanchor="middle", font=dict(size=30, family=WIDE))

# the page body has a default 8px margin; drop it so the figure sits at the window corner
fig.write_html("out.html", config={"displayModeBar": False},
               post_script="document.body.style.margin='0';")
